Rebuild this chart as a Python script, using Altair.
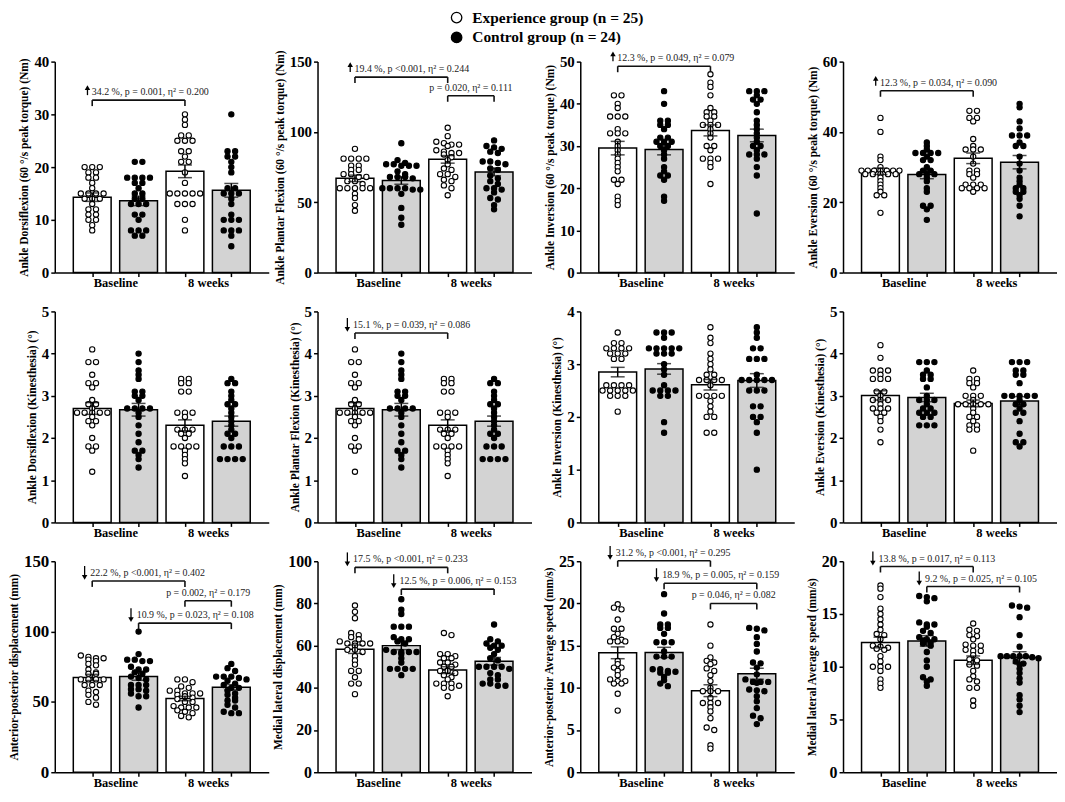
import altair as alt
import pandas as pd

FONT = "Liberation Serif, 'Times New Roman', Times, serif"
LEGEND_LABELS = ["Experience group (n = 25)", "Control group (n = 24)"]
X_LABELS = ["Baseline", "8 weeks"]
CENTERS = [0.7, 1.7, 2.7, 3.7]
XMAX = 4.4
BAR_FILLS = ["white", "#d3d3d3", "white", "#d3d3d3"]

# annotation tuples: (from bar, to bar, bracket level, text, arrow "up"/"down"/"")

# ---------------- panel 1: Ankle Dorsiflexion (60 deg/s) ----------------
P1_EXP_BASE = [20, 20, 20, 19, 19, 18, 18, 17, 16, 15, 15, 15, 15, 14, 14, 14, 13, 12, 12, 11, 11, 10, 10, 9, 8]
P1_CON_BASE = [21, 21, 18, 18, 18, 18, 17, 17, 16, 15, 15, 14, 14, 13, 13, 13, 11, 11, 10, 8, 8, 8, 7, 7]
P1_EXP_8W = [30, 29, 28, 26, 26, 25, 25, 25, 23, 23, 22, 21, 21, 19, 17, 15, 15, 15, 15, 15, 13, 13, 13, 10, 8]
P1_CON_8W = [30, 23, 23, 22, 22, 21, 20, 19, 16, 16, 15, 15, 15, 14, 13, 11, 10, 10, 10, 8, 8, 8, 7, 5]
P1_MEANS = [14.3, 13.6, 19.2, 15.6]
P1_SEMS = [0.8, 0.9, 1.2, 1.3]
P1_ANN = [(0, 2, 32.7, "34.2 %, p = 0.001, \u03b7\u00b2 = 0.200", "up")]

# ---------------- panel 2: Ankle Plantar Flexion (60 deg/s) ----------------
P2_EXP_BASE = [88, 81, 81, 81, 81, 76, 76, 73, 73, 70, 70, 68, 68, 65, 65, 63, 60, 60, 60, 60, 60, 56, 53, 48, 44]
P2_CON_BASE = [92, 80, 78, 77, 77, 76, 76, 76, 72, 70, 68, 68, 68, 67, 60, 60, 60, 60, 59, 59, 56, 46, 39, 34]
P2_EXP_8W = [103, 97, 93, 92, 91, 91, 90, 87, 86, 85, 85, 84, 82, 80, 77, 74, 73, 70, 70, 68, 66, 65, 62, 60, 55]
P2_CON_8W = [94, 90, 89, 88, 86, 85, 79, 79, 78, 77, 74, 73, 69, 67, 65, 63, 60, 60, 59, 57, 53, 52, 48, 45]
P2_MEANS = [67.0, 65.5, 80.5, 71.6]
P2_SEMS = [2.3, 2.7, 2.7, 2.8]
P2_ANN = [(0, 2, 139.0, "19.4 %, p <0.001, \u03b7\u00b2 = 0.244", "up"),
          (2, 3, 125.7, "p = 0.020, \u03b7\u00b2 = 0.111", "")]

# ---------------- panel 3: Ankle Inversion (60 deg/s) ----------------
P3_EXP_BASE = [42, 42, 40, 39, 37, 37, 37, 34, 33, 33, 33, 31, 30, 29, 28, 27, 26, 25, 24, 22, 22, 21, 18, 17, 16]
P3_CON_BASE = [43, 40, 36, 36, 35, 35, 34, 32, 32, 31, 31, 31, 30, 30, 29, 28, 27, 25, 24, 23, 23, 22, 18, 17]
P3_EXP_8W = [47, 45, 44, 42, 39, 38, 38, 37, 37, 36, 35, 35, 35, 34, 33, 32, 30, 30, 29, 27, 27, 27, 26, 25, 21]
P3_CON_8W = [43, 43, 43, 42, 41, 41, 40, 38, 36, 35, 34, 33, 32, 31, 30, 30, 29, 28, 28, 28, 27, 25, 23, 14]
P3_MEANS = [29.5, 29.2, 33.7, 32.5]
P3_SEMS = [1.6, 1.3, 1.3, 1.5]
P3_ANN = [(0, 2, 48.9, "12.3 %, p = 0.049, \u03b7\u00b2 = 0.079", "up")]

# ---------------- panel 4: Ankle Eversion (60 deg/s) ----------------
P4_EXP_BASE = [44, 40, 33, 32, 30, 29, 29, 29, 29, 29, 29, 29, 28, 28, 28, 28, 28, 27, 26, 25, 24, 23, 22, 22, 17]
P4_CON_BASE = [37, 36, 35, 34, 34, 34, 34, 33, 32, 32, 30, 29, 29, 28, 28, 28, 27, 26, 24, 23, 19, 19, 18, 15]
P4_EXP_8W = [46, 46, 44, 44, 43, 38, 36, 35, 35, 35, 33, 31, 29, 29, 28, 28, 27, 25, 25, 25, 24, 24, 24, 24, 23]
P4_CON_8W = [48, 47, 43, 41, 39, 39, 39, 37, 36, 36, 33, 31, 29, 27, 26, 25, 24, 24, 23, 23, 22, 21, 19, 16]
P4_MEANS = [28.8, 27.9, 32.5, 31.4]
P4_SEMS = [0.9, 1.2, 1.5, 1.9]
P4_ANN = [(0, 2, 51.7, "12.3 %, p = 0.034, \u03b7\u00b2 = 0.090", "up")]

# ---------------- panel 5: Ankle Dorsiflexion (Kinesthesia) ----------------
P5_EXP_BASE = [4.1, 3.8, 3.8, 3.5, 3.3, 3.3, 3.2, 2.9, 2.8, 2.8, 2.7, 2.6, 2.6, 2.6, 2.6, 2.6, 2.5, 2.4, 2.4, 2.3, 2.0, 1.8, 1.8, 1.7, 1.2]
P5_CON_BASE = [4.0, 3.8, 3.6, 3.5, 3.4, 3.1, 3.1, 3.0, 3.0, 2.9, 2.7, 2.7, 2.7, 2.7, 2.6, 2.5, 2.3, 2.1, 1.9, 1.7, 1.7, 1.6, 1.5, 1.3]
P5_EXP_8W = [3.4, 3.4, 3.3, 3.3, 3.1, 3.1, 2.6, 2.6, 2.6, 2.5, 2.2, 2.2, 2.2, 2.1, 2.1, 2.0, 1.8, 1.8, 1.8, 1.8, 1.7, 1.6, 1.5, 1.4, 1.1]
P5_CON_8W = [3.4, 3.3, 3.3, 3.1, 3.0, 2.9, 2.8, 2.8, 2.7, 2.6, 2.5, 2.4, 2.3, 2.2, 2.1, 2.1, 2.0, 1.8, 1.8, 1.8, 1.5, 1.5, 1.5, 1.5]
P5_MEANS = [2.70, 2.67, 2.30, 2.40]
P5_SEMS = [0.14, 0.15, 0.13, 0.12]
P5_ANN = []

# ---------------- panel 6: Ankle Plantar Flexion (Kinesthesia) ----------------
P6_EXP_BASE = [4.1, 3.8, 3.8, 3.5, 3.3, 3.3, 3.2, 2.9, 2.8, 2.8, 2.7, 2.6, 2.6, 2.6, 2.6, 2.6, 2.5, 2.4, 2.4, 2.3, 2.0, 1.8, 1.8, 1.7, 1.2]
P6_CON_BASE = [4.0, 3.8, 3.6, 3.5, 3.4, 3.1, 3.1, 3.0, 3.0, 2.9, 2.7, 2.7, 2.7, 2.7, 2.6, 2.5, 2.3, 2.1, 1.9, 1.7, 1.7, 1.6, 1.5, 1.3]
P6_EXP_8W = [3.4, 3.4, 3.3, 3.3, 3.1, 3.1, 2.6, 2.6, 2.6, 2.5, 2.2, 2.2, 2.2, 2.1, 2.1, 2.0, 1.8, 1.8, 1.8, 1.8, 1.7, 1.6, 1.5, 1.4, 1.1]
P6_CON_8W = [3.4, 3.3, 3.3, 3.1, 3.0, 2.9, 2.8, 2.8, 2.7, 2.6, 2.5, 2.4, 2.3, 2.2, 2.1, 2.1, 2.0, 1.8, 1.8, 1.8, 1.5, 1.5, 1.5, 1.5]
P6_MEANS = [2.70, 2.67, 2.30, 2.40]
P6_SEMS = [0.14, 0.15, 0.13, 0.12]
P6_ANN = [(0, 2, 4.49, "15.1 %, p = 0.039, \u03b7\u00b2 = 0.086", "down")]

# ---------------- panel 7: Ankle Inversion (Kinesthesia) ----------------
P7_EXP_BASE = [3.6, 3.4, 3.4, 3.3, 3.3, 3.3, 3.3, 3.2, 3.2, 3.2, 3.1, 3.1, 2.6, 2.6, 2.6, 2.6, 2.5, 2.5, 2.5, 2.5, 2.5, 2.4, 2.4, 2.4, 2.1]
P7_CON_BASE = [3.6, 3.6, 3.6, 3.5, 3.3, 3.3, 3.3, 3.3, 3.3, 3.2, 3.2, 3.2, 3.0, 2.9, 2.8, 2.6, 2.5, 2.5, 2.5, 2.5, 2.4, 2.4, 1.9, 1.7]
P7_EXP_8W = [3.7, 3.5, 3.4, 3.2, 3.1, 3.0, 2.9, 2.8, 2.8, 2.7, 2.7, 2.7, 2.7, 2.6, 2.4, 2.4, 2.4, 2.4, 2.3, 2.2, 2.1, 2.0, 2.0, 1.7, 1.7]
P7_CON_8W = [3.7, 3.6, 3.5, 3.3, 3.3, 3.1, 3.1, 3.1, 2.8, 2.7, 2.7, 2.7, 2.7, 2.7, 2.5, 2.5, 2.5, 2.2, 2.2, 2.0, 2.0, 1.9, 1.7, 1.0]
P7_MEANS = [2.85, 2.91, 2.61, 2.69]
P7_SEMS = [0.09, 0.10, 0.10, 0.13]
P7_ANN = []

# ---------------- panel 8: Ankle Eversion (Kinesthesia) ----------------
P8_EXP_BASE = [4.2, 3.9, 3.6, 3.6, 3.6, 3.5, 3.4, 3.4, 3.4, 3.1, 3.1, 3.0, 2.9, 2.9, 2.9, 2.8, 2.7, 2.7, 2.7, 2.6, 2.6, 2.5, 2.4, 2.2, 1.9]
P8_CON_BASE = [3.8, 3.8, 3.8, 3.6, 3.5, 3.5, 3.4, 3.4, 3.2, 3.0, 2.9, 2.9, 2.9, 2.8, 2.7, 2.7, 2.6, 2.6, 2.6, 2.5, 2.5, 2.3, 2.3, 2.3]
P8_EXP_8W = [3.6, 3.4, 3.4, 3.3, 3.3, 3.2, 3.0, 3.0, 3.0, 2.9, 2.8, 2.8, 2.8, 2.8, 2.8, 2.7, 2.6, 2.5, 2.5, 2.4, 2.3, 2.3, 2.2, 2.2, 1.7]
P8_CON_8W = [3.8, 3.8, 3.8, 3.6, 3.6, 3.5, 3.5, 3.3, 3.0, 3.0, 3.0, 3.0, 3.0, 2.9, 2.8, 2.8, 2.7, 2.6, 2.6, 2.4, 2.1, 1.9, 1.9, 1.8]
P8_MEANS = [3.01, 2.96, 2.82, 2.88]
P8_SEMS = [0.11, 0.10, 0.08, 0.10]
P8_ANN = []

# ---------------- panel 9: Anterior-posterior displacement ----------------
P9_EXP_BASE = [83, 82, 81, 81, 80, 79, 77, 76, 73, 71, 70, 70, 66, 66, 66, 66, 62, 62, 62, 58, 57, 55, 53, 50, 48]
P9_CON_BASE = [100, 84, 80, 80, 79, 79, 75, 73, 73, 71, 70, 68, 67, 66, 62, 62, 62, 59, 59, 58, 56, 54, 54, 46]
P9_EXP_8W = [66, 66, 64, 61, 60, 58, 58, 56, 56, 56, 55, 54, 53, 52, 50, 50, 47, 46, 46, 46, 44, 43, 42, 40, 39]
P9_CON_8W = [77, 74, 72, 68, 68, 68, 67, 66, 65, 63, 62, 60, 60, 58, 56, 55, 53, 51, 51, 48, 46, 43, 42, 42]
P9_MEANS = [67.4, 68.1, 52.4, 60.4]
P9_SEMS = [2.2, 2.7, 1.6, 1.9]
P9_ANN = [(0, 2, 136.0, "22.2 %, p <0.001, \u03b7\u00b2 = 0.402", "down"),
          (2, 3, 121.9, "p = 0.002, \u03b7\u00b2 = 0.179", ""),
          (1, 3, 106.0, "10.9 %, p = 0.023, \u03b7\u00b2 = 0.108", "down")]

# ---------------- panel 10: Medial lateral displacement ----------------
P10_EXP_BASE = [79, 76, 73, 66, 65, 64, 63, 62, 61, 61, 61, 61, 60, 58, 58, 57, 55, 53, 51, 48, 48, 45, 42, 42, 37]
P10_CON_BASE = [82, 77, 75, 69, 69, 69, 64, 63, 63, 62, 61, 58, 57, 57, 57, 57, 56, 54, 52, 49, 49, 49, 49, 46]
P10_EXP_8W = [66, 65, 56, 56, 55, 54, 54, 52, 52, 51, 50, 50, 48, 48, 47, 46, 45, 44, 42, 42, 42, 41, 40, 40, 36]
P10_CON_8W = [70, 63, 62, 61, 60, 60, 59, 58, 56, 54, 53, 50, 50, 50, 50, 49, 47, 46, 44, 44, 42, 42, 41, 41]
P10_MEANS = [58.3, 60.0, 48.4, 52.6]
P10_SEMS = [2.0, 1.9, 1.6, 1.8]
P10_ANN = [(0, 2, 97.1, "17.5 %, p <0.001, \u03b7\u00b2 = 0.233", "down"),
           (1, 3, 86.8, "12.5 %, p = 0.006, \u03b7\u00b2 = 0.153", "down")]

# ---------------- panel 11: Anterior-posterior Average speed ----------------
P11_EXP_BASE = [19.9, 19.5, 19.3, 18.1, 17.0, 17.0, 16.4, 16.0, 15.7, 15.5, 15.5, 15.5, 13.2, 12.8, 12.4, 12.4, 12.0, 11.5, 11.0, 10.8, 10.8, 10.5, 10.5, 9.3, 7.3]
P11_CON_BASE = [21.1, 18.8, 17.5, 17.5, 17.1, 17.1, 16.4, 15.4, 15.4, 15.4, 14.3, 13.7, 13.7, 13.7, 12.2, 12.2, 12.0, 11.9, 11.8, 11.8, 11.3, 10.9, 10.5, 10.2]
P11_EXP_8W = [17.5, 15.0, 13.6, 13.2, 13.0, 12.8, 12.3, 12.0, 11.5, 10.8, 10.0, 9.6, 9.6, 9.6, 8.8, 8.2, 8.2, 8.2, 7.7, 7.2, 6.4, 5.3, 5.0, 3.2, 2.8]
P11_CON_8W = [17.1, 17.0, 16.8, 16.0, 15.2, 14.3, 13.0, 12.9, 12.4, 11.6, 11.0, 10.7, 10.7, 10.7, 10.6, 9.8, 9.7, 9.6, 9.0, 8.4, 7.6, 6.7, 6.4, 5.7]
P11_MEANS = [14.15, 14.2, 9.66, 11.67]
P11_SEMS = [0.7, 0.6, 0.7, 0.65]
P11_ANN = [(0, 2, 25.05, "31.2 %, p <0.001, \u03b7\u00b2 = 0.295", "down"),
           (1, 3, 22.4, "18.9 %, p = 0.005, \u03b7\u00b2 = 0.159", "down"),
           (2, 3, 20.0, "p = 0.046, \u03b7\u00b2 = 0.082", "")]

# ---------------- panel 12: Medial lateral Average speed ----------------
P12_EXP_BASE = [17.7, 17.4, 16.6, 15.5, 15.0, 14.5, 14.0, 13.5, 13.1, 13.0, 12.6, 12.0, 11.9, 11.8, 11.7, 11.6, 11.0, 10.5, 10.0, 10.0, 10.0, 9.6, 8.8, 8.4, 8.0]
P12_CON_BASE = [16.7, 16.6, 16.5, 16.2, 14.2, 14.0, 14.0, 13.8, 13.4, 13.2, 12.8, 12.6, 12.6, 12.5, 12.3, 12.2, 12.0, 11.4, 10.6, 10.0, 9.0, 8.8, 8.6, 8.2]
P12_EXP_8W = [14.1, 13.5, 13.4, 13.0, 12.9, 12.6, 12.1, 12.0, 12.0, 11.6, 11.5, 11.5, 11.1, 10.7, 10.6, 10.2, 10.1, 9.6, 9.1, 8.8, 8.6, 8.0, 8.0, 6.8, 6.3]
P12_CON_8W = [15.8, 15.7, 15.6, 14.7, 13.0, 11.9, 11.0, 11.0, 11.0, 11.0, 11.0, 10.9, 10.8, 10.5, 10.3, 10.2, 9.8, 9.4, 8.9, 8.5, 7.3, 6.9, 6.3, 5.7]
P12_MEANS = [12.3, 12.45, 10.62, 10.87]
P12_SEMS = [0.5, 0.5, 0.4, 0.55]
P12_ANN = [(0, 2, 19.5, "13.8 %, p = 0.017, \u03b7\u00b2 = 0.113", "down"),
           (1, 3, 17.6, "9.2 %, p = 0.025, \u03b7\u00b2 = 0.105", "down")]

PANELS = [
    ("Ankle Dorsiflexion (60 \u00b0/s peak torque) (Nm)", 40, [0, 10, 20, 30, 40],
     [P1_EXP_BASE, P1_CON_BASE, P1_EXP_8W, P1_CON_8W], P1_MEANS, P1_SEMS, P1_ANN, 15),
    ("Ankle Plantar Flexion (60 \u00b0/s peak torque) (Nm)", 150, [0, 50, 100, 150],
     [P2_EXP_BASE, P2_CON_BASE, P2_EXP_8W, P2_CON_8W], P2_MEANS, P2_SEMS, P2_ANN, 15),
    ("Ankle Inversion (60 \u00b0/s peak torque) (Nm)", 50, [0, 10, 20, 30, 40, 50],
     [P3_EXP_BASE, P3_CON_BASE, P3_EXP_8W, P3_CON_8W], P3_MEANS, P3_SEMS, P3_ANN, 15),
    ("Ankle Eversion (60 \u00b0/s peak torque) (Nm)", 60, [0, 20, 40, 60],
     [P4_EXP_BASE, P4_CON_BASE, P4_EXP_8W, P4_CON_8W], P4_MEANS, P4_SEMS, P4_ANN, 15),
    ("Ankle Dorsiflexion (Kinesthesia) (\u00b0)", 5, [0, 1, 2, 3, 4, 5],
     [P5_EXP_BASE, P5_CON_BASE, P5_EXP_8W, P5_CON_8W], P5_MEANS, P5_SEMS, P5_ANN, 15),
    ("Ankle Plantar Flexion (Kinesthesia) (\u00b0)", 5, [0, 1, 2, 3, 4, 5],
     [P6_EXP_BASE, P6_CON_BASE, P6_EXP_8W, P6_CON_8W], P6_MEANS, P6_SEMS, P6_ANN, 15),
    ("Ankle Inversion (Kinesthesia) (\u00b0)", 4, [0, 1, 2, 3, 4],
     [P7_EXP_BASE, P7_CON_BASE, P7_EXP_8W, P7_CON_8W], P7_MEANS, P7_SEMS, P7_ANN, 15),
    ("Ankle Eversion (Kinesthesia) (\u00b0)", 5, [0, 1, 2, 3, 4, 5],
     [P8_EXP_BASE, P8_CON_BASE, P8_EXP_8W, P8_CON_8W], P8_MEANS, P8_SEMS, P8_ANN, 15),
    ("Anterior-posterior displacement (mm)", 150, [0, 50, 100, 150],
     [P9_EXP_BASE, P9_CON_BASE, P9_EXP_8W, P9_CON_8W], P9_MEANS, P9_SEMS, P9_ANN, 17),
    ("Medial lateral displacement (mm)", 100, [0, 20, 40, 60, 80, 100],
     [P10_EXP_BASE, P10_CON_BASE, P10_EXP_8W, P10_CON_8W], P10_MEANS, P10_SEMS, P10_ANN, 16),
    ("Anterior-posterior Average speed (mm/s)", 25, [0, 5, 10, 15, 20, 25],
     [P11_EXP_BASE, P11_CON_BASE, P11_EXP_8W, P11_CON_8W], P11_MEANS, P11_SEMS, P11_ANN, 16),
    ("Medial lateral Average speed (mm/s)", 20, [0, 5, 10, 15, 20],
     [P12_EXP_BASE, P12_CON_BASE, P12_EXP_8W, P12_CON_8W], P12_MEANS, P12_SEMS, P12_ANN, 16),
]

# ---------------- layout / style ----------------
W, H = 215, 212
BAR_PX = 38
DOT_STEP = 8.0
ROW_SPAN = 40.0
ROW_TOL = 3.0
DROP_PX = 6.0
ARROW_DX = {"down": -8.0, "up": -5.0}
TEXT_DX = {"down": -2.0, "up": -0.5}

GROUP_POS = [round((CENTERS[0] + CENTERS[1]) / 2, 3), round((CENTERS[2] + CENTERS[3]) / 2, 3)]
X_TICKS = sorted(CENTERS + GROUP_POS)
LABEL_EXPR = " : ".join(
    f"abs(datum.value - {p}) < 0.01 ? '{t}'" for p, t in zip(GROUP_POS, X_LABELS)
) + " : ''"
TICK_TEST = " || ".join(f"abs(datum.value - {p}) < 0.01" for p in GROUP_POS)


def swarm(values, center, pxx, pxy):
    vals = sorted(values, reverse=True)
    rows = []
    for v in vals:
        if rows and (rows[-1][0] - v) * pxy < ROW_TOL:
            rows[-1].append(v)
        else:
            rows.append([v])
    pts = []
    for row in rows:
        n = len(row)
        step = DOT_STEP if n < 6 else ROW_SPAN / (n - 1)
        for i, v in enumerate(row):
            pts.append((center + (i - (n - 1) / 2) * step / pxx, v))
    return pts


LEGEND = alt.Legend(
    title=None, orient="none", legendX=396, legendY=-52, direction="vertical",
    symbolType="circle", symbolSize=110, symbolStrokeColor="black", symbolStrokeWidth=1.3,
    labelFont=FONT, labelFontSize=15.5, labelFontWeight="bold", labelColor="black",
    labelOffset=8, rowPadding=2, padding=0, labelLimit=400,
)


def build_panel(title, ymax, ticks, groups, means, sems, ann, lfs):
    pxx = W / XMAX
    pxy = H / ymax
    drop = DROP_PX / pxy
    xscale = alt.Scale(domain=[0, XMAX], nice=False, zero=False)
    yscale = alt.Scale(domain=[0, ymax], nice=False, zero=True)
    xaxis = alt.Axis(
        values=X_TICKS, labelExpr=LABEL_EXPR, title=None, grid=False,
        labelOverlap=False, labelFlush=False, labelFontSize=12.5, labelPadding=0,
        labelFont=FONT, labelFontWeight="bold", labelColor="black",
        tickSize=4, tickOpacity={"condition": {"test": TICK_TEST, "value": 0}, "value": 1},
    )
    yaxis = alt.Axis(
        values=ticks, format="d", title=title, grid=False, labelOverlap=False,
        labelFlush=False, labelFontSize=lfs, tickSize=4, labelPadding=2, titlePadding=4,
        labelFont=FONT, labelFontWeight="bold", labelColor="black",
        titleFont=FONT, titleFontWeight="bold", titleFontSize=11.5, titleColor="black",
    )

    def X(f):
        return alt.X(f, type="quantitative", scale=xscale, axis=xaxis)

    def Y(f):
        return alt.Y(f, type="quantitative", scale=yscale, axis=yaxis)

    bars = pd.DataFrame({
        "x": CENTERS, "mean": means,
        "lo": [m - s for m, s in zip(means, sems)],
        "hi": [m + s for m, s in zip(means, sems)],
        "fill": BAR_FILLS,
    })
    dots = []
    for gi, vals in enumerate(groups):
        for x, v in swarm(vals, CENTERS[gi], pxx, pxy):
            dots.append({"x": x, "v": v, "group": LEGEND_LABELS[gi % 2]})
    dots = pd.DataFrame(dots)
    caps = pd.DataFrame({"x": CENTERS * 2, "v": list(bars["lo"]) + list(bars["hi"])})

    layers = [
        alt.Chart(bars).mark_bar(size=BAR_PX, stroke="black", strokeWidth=1.5).encode(
            x=X("x"), y=Y("mean"), color=alt.Color("fill:N", scale=None)),
        alt.Chart(dots).mark_point(shape="circle", size=28, stroke="black", strokeWidth=1.1,
                                   opacity=1, fillOpacity=1).encode(
            x=X("x"), y=Y("v"),
            fill=alt.Fill("group:N", scale=alt.Scale(domain=LEGEND_LABELS, range=["white", "black"]),
                          legend=LEGEND)),
        alt.Chart(bars).mark_rule(color="black", strokeWidth=1.5).encode(
            x=X("x"), y=Y("lo"), y2="hi"),
        alt.Chart(caps).mark_tick(orient="horizontal", size=14, thickness=1.5, color="black").encode(
            x=X("x"), y=Y("v")),
    ]

    if ann:
        hb = pd.DataFrame({"x1": [CENTERS[a[0]] for a in ann], "x2": [CENTERS[a[1]] for a in ann],
                           "y": [a[2] for a in ann]})
        vb = pd.DataFrame({"x": [CENTERS[a[k]] for a in ann for k in (0, 1)],
                           "y": [a[2] for a in ann for k in (0, 1)],
                           "y2": [a[2] - drop for a in ann for k in (0, 1)]})
        layers += [
            alt.Chart(hb).mark_rule(color="#111", strokeWidth=1.6).encode(
                x=X("x1"), x2="x2", y=Y("y")),
            alt.Chart(vb).mark_rule(color="#111", strokeWidth=1.6).encode(
                x=X("x"), y=Y("y"), y2="y2"),
        ]
        tc = [a for a in ann if not a[4]]
        tl = [a for a in ann if a[4]]
        if tc:
            df = pd.DataFrame({"x": [(CENTERS[a[0]] + CENTERS[a[1]]) / 2 for a in tc],
                               "y": [a[2] for a in tc], "label": [a[3] for a in tc]})
            layers.append(alt.Chart(df).mark_text(
                font=FONT, fontSize=10, color="#222", baseline="alphabetic", align="center", dy=-5
            ).encode(x=X("x"), y=Y("y"), text="label:N"))
        if tl:
            df = pd.DataFrame({"x": [CENTERS[a[0]] + TEXT_DX[a[4]] / pxx for a in tl],
                               "y": [a[2] for a in tl], "label": [a[3] for a in tl]})
            layers.append(alt.Chart(df).mark_text(
                font=FONT, fontSize=10, color="#222", baseline="alphabetic", align="left", dy=-5
            ).encode(x=X("x"), y=Y("y"), text="label:N"))
            stems, heads = [], []
            for a in tl:
                ax = CENTERS[a[0]] + ARROW_DX[a[4]] / pxx
                if a[4] == "down":
                    stems.append({"x": ax, "y": a[2] + 15 / pxy, "y2": a[2] + 4 / pxy})
                    heads.append({"x": ax, "y": a[2] + 3.5 / pxy, "shape": "triangle-down"})
                else:
                    stems.append({"x": ax, "y": a[2] + 5 / pxy, "y2": a[2] + 12 / pxy})
                    heads.append({"x": ax, "y": a[2] + 12.5 / pxy, "shape": "triangle-up"})
            layers.append(alt.Chart(pd.DataFrame(stems)).mark_rule(color="black", strokeWidth=1.3).encode(
                x=X("x"), y=Y("y"), y2="y2"))
            layers.append(alt.Chart(pd.DataFrame(heads)).mark_point(
                filled=True, size=30, color="black", opacity=1).encode(
                x=X("x"), y=Y("y"), shape=alt.Shape("shape:N", scale=None)))

    return alt.layer(*layers).properties(width=W, height=H)


charts = [build_panel(*p) for p in PANELS]

chart = alt.concat(
    *charts, columns=4, spacing={"row": 39, "column": 49}, bounds="flush"
).resolve_scale(
    x="independent", y="independent", fill="shared"
).properties(
    padding=0, background="white"
).configure_view(
    stroke=None
).configure_axis(
    domainColor="black", domainWidth=1.5, tickColor="black", tickWidth=1.5,
    labelFont=FONT, labelFontWeight="bold", labelColor="black",
    titleFont=FONT, titleFontWeight="bold", titleFontSize=11.5, titleColor="black",
).configure_text(font=FONT)

chart.save("out.html", embed_options={"renderer": "svg", "actions": False})
